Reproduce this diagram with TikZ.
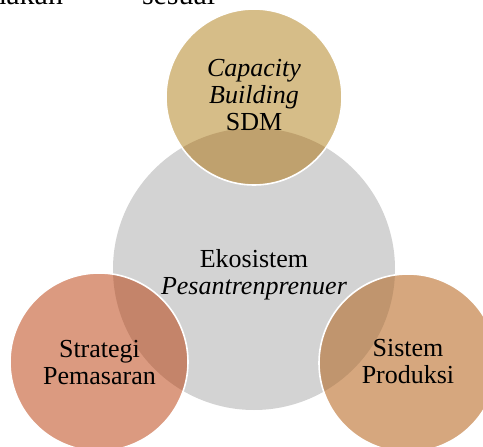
\documentclass[tikz,border=0pt]{standalone}
\usepackage{fontspec}
\setmainfont{Liberation Serif}
\definecolor{cd3d3d3}{RGB}{211,211,211}
\definecolor{cd5bc88}{RGB}{214,189,136}
\definecolor{cbfa16e}{RGB}{191,161,110}
\definecolor{cda9a80}{RGB}{219,154,128}
\definecolor{cc4846a}{RGB}{196,132,106}
\definecolor{cd6a77e}{RGB}{214,167,126}
\definecolor{cc0956e}{RGB}{192,149,110}

\begin{document}
\begin{tikzpicture}[y=-1pt, x=1pt, inner sep=0pt, outer sep=0pt,
  lbl/.style={align=center, font=\fontsize{26}{27}\selectfont}]
  \useasboundingbox (0,0) rectangle (483,447);
  % line of running text, cut by the page edge
  \path[fill=black] (63,5) node[anchor=base east] (text-run1)
    {\fontsize{30}{32}\selectfont dilaksanakan};
  \path[fill=black] (142,5) node[anchor=base west] (text-run2)
    {\fontsize{30}{32}\selectfont sesuai};
  % middle circle
  \path[fill=cd3d3d3] (254,269) circle (141);
  % top circle
  \path[fill=cd5bc88] (254,97) circle (88);
  \begin{scope}
    \clip (254,269) circle (141);
    \path[fill=cbfa16e] (254,97) circle (88);
  \end{scope}
  \path[draw=white,line width=1.6pt] (254,97) circle (88);
  % left circle
  \path[fill=cda9a80] (99,362) circle (89);
  \begin{scope}
    \clip (254,269) circle (141);
    \path[fill=cc4846a] (99,362) circle (89);
  \end{scope}
  \path[draw=white,line width=1.6pt] (99,362) circle (89);
  % right circle
  \path[fill=cd6a77e] (408,363) circle (89);
  \begin{scope}
    \clip (254,269) circle (141);
    \path[fill=cc0956e] (408,363) circle (89);
  \end{scope}
  \path[draw=white,line width=1.6pt] (408,363) circle (89);
  % labels
  \path[fill=black] (254,95) node[lbl] (text-sdm)
    {\textit{Capacity}\\\textit{Building}\\SDM};
  \path[fill=black] (254,275) node[lbl] (text-eko)
    {Ekosistem\\\textit{Pesantrenprenuer}};
  \path[fill=black] (99.5,362.5) node[lbl] (text-pasar)
    {Strategi\\Pemasaran};
  \path[fill=black] (408,362) node[lbl] (text-prod)
    {Sistem\\Produksi};
\end{tikzpicture}
\end{document}
